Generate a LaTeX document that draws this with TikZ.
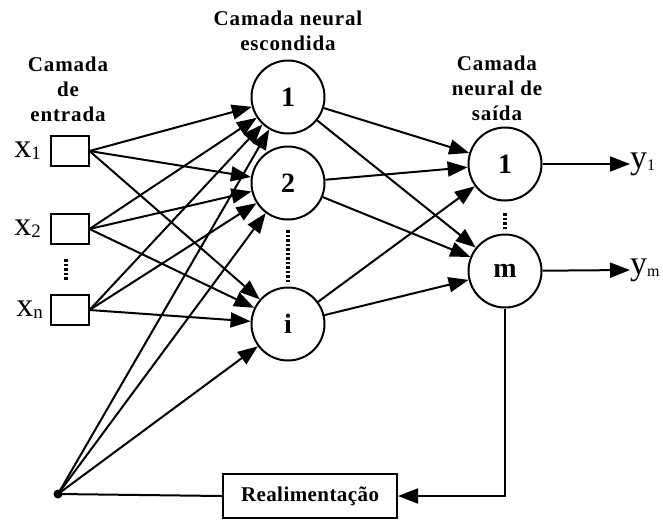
\documentclass[tikz,border=0pt]{standalone}
\usepackage{fontspec}
\setmainfont{Liberation Serif}
\usetikzlibrary{arrows.meta}

\newcommand{\varlabel}[3]{{\fontsize{34}{34}\selectfont #1}{\fontsize{#3}{#3}\selectfont\raisebox{-2pt}{#2}}}

\tikzset{
  neuron/.style={draw, circle, line width=2pt, minimum size=73pt, inner sep=0pt,
    font=\fontsize{28}{28}\selectfont\bfseries},
  inbox/.style={draw, line width=2pt, minimum width=38pt, minimum height=30pt, inner sep=0pt},
  title/.style={align=center, font=\fontsize{21}{25}\selectfont\bfseries\addfontfeature{LetterSpace=4}},
  conn/.style={line width=2pt, -{Triangle[length=20pt,width=15pt]}},
  vdots/.style={line width=4pt, dash pattern=on 2.5pt off 2pt}
}

\begin{document}
\begin{tikzpicture}[x=1pt,y=-1pt]
    \useasboundingbox (0,0) rectangle (663,520);

    % titulos das camadas
    \node[title] (tin) at (68,89) {Camada\\de\\entrada};
    \node[title] (thid) at (288,31) {Camada neural\\escondida};
    \node[title] (tout) at (497,88) {Camada\\neural de\\saída};

    % entradas
    \node[inbox] (x1) at (69.5,151) {};
    \node[inbox] (x2) at (69.5,229) {};
    \node[inbox] (xn) at (69.5,310) {};
    \node[anchor=east, inner sep=0pt] (lx1) at (41,151) {\varlabel{x}{1}{19}};
    \node[anchor=east, inner sep=0pt] (lx2) at (41,229) {\varlabel{x}{2}{19}};
    \node[anchor=east, inner sep=0pt] (lxn) at (43,310) {\varlabel{x}{n}{19}};
    \draw[vdots] (66,259) -- (66,280);

    % camada escondida
    \node[neuron] (h1) at (288,97) {1};
    \node[neuron] (h2) at (288,183) {2};
    \node[neuron] (hi) at (288,324) {i};
    \draw[vdots] (288,230) -- (288,284);

    % camada de saida
    \node[neuron] (o1) at (505,164) {1};
    \node[neuron] (om) at (505,271) {m};
    \draw[vdots] (505,213) -- (505,230);

    % bias e realimentacao
    \node[circle, fill, inner sep=0pt, minimum size=9pt] (bias) at (58,494) {};
    \node[draw, line width=2pt, minimum width=174pt, minimum height=44pt,
      font=\fontsize{21}{21}\selectfont\bfseries\addfontfeature{LetterSpace=2}] (feed) at (310,496) {Realimentação};

    \foreach \i in {x1,x2,xn}
      \foreach \h in {h1,h2,hi}
        \draw[conn] (\i.east) -- (\h);
    \foreach \h in {h1,h2,hi}
      \draw[conn] (bias.center) -- (\h);
    \foreach \h in {h1,h2,hi}
      \foreach \o in {o1,om}
        \draw[conn] (\h) -- (\o);

    % saidas
    \node[anchor=west, inner sep=0pt] (y1) at (630,164) {\varlabel{y}{1}{16}};
    \node[anchor=west, inner sep=0pt] (ym) at (630,270) {\varlabel{y}{m}{16}};
    \draw[conn] (o1) -- (y1.west);
    \draw[conn] (om) -- (ym.west);

    \draw[conn] (om.south) -- (om.south |- feed.east) -- (feed.east);
    \draw[line width=2pt] (feed.west) -- (bias.center);
\end{tikzpicture}
\end{document}
